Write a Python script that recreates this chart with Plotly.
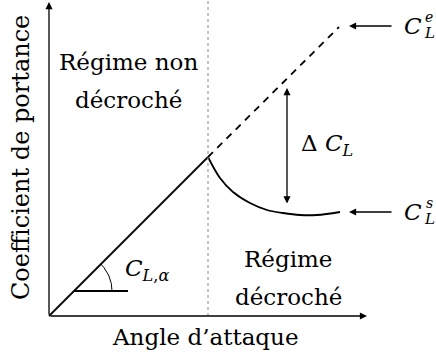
import numpy as np
import plotly.graph_objects as go

# pre-stall linear region (angle, lift), origin at the axes corner
alpha_lin = [0, 159]
cl_lin = [0, 159]

# extrapolated (theoretical) lift
alpha_ext = [159, 290]
cl_ext = [159, 289]

# stalled lift curve
alpha_stall = [159, 171, 184, 201, 218, 234, 251, 268, 291]
cl_stall = [159, 138, 124, 113, 106, 103, 101, 101, 104]

alpha_stall_onset = 159
cl_top = 316

FONT = "DejaVu Serif, serif"
BLACK = "#000000"

fig = go.Figure()

fig.add_trace(go.Scatter(x=alpha_lin, y=cl_lin, mode="lines",
                         line=dict(color=BLACK, width=1.8)))
fig.add_trace(go.Scatter(x=alpha_ext, y=cl_ext, mode="lines",
                         line=dict(color=BLACK, width=1.8, dash="7px,6px")))
fig.add_trace(go.Scatter(x=alpha_stall, y=cl_stall, mode="lines",
                         line=dict(color=BLACK, width=1.8, shape="spline", smoothing=1)))

# stall onset separator
fig.add_trace(go.Scatter(x=[alpha_stall_onset, alpha_stall_onset], y=[0, cl_top],
                         mode="lines", line=dict(color="#888888", width=1, dash="dot")))

# lift slope marker
x0, y0, r = 25, 25, 38
fig.add_trace(go.Scatter(x=[x0, x0 + 54], y=[y0, y0], mode="lines",
                         line=dict(color=BLACK, width=1.8)))
th = np.linspace(0, np.pi / 4, 30)
fig.add_trace(go.Scatter(x=x0 + r * np.cos(th), y=y0 + r * np.sin(th), mode="lines",
                         line=dict(color=BLACK, width=1)))


def arrow(x, y, ax, ay, both=False):
    fig.add_annotation(x=x, y=y, ax=ax, ay=ay, xref="x", yref="y", axref="x", ayref="y",
                       text="", showarrow=True, arrowhead=2, arrowsize=1.1, arrowwidth=1.3,
                       arrowcolor=BLACK, arrowside="end+start" if both else "end",
                       startarrowhead=2, startarrowsize=1.1)


# axes
arrow(0, 314, 0, 0)
arrow(318, 0, 0, 0)
# delta CL
arrow(238, 228, 238, 111, both=True)
# CL^e, CL^s pointers
arrow(300, 290, 344, 290)
arrow(300, 104, 344, 104)


def label(x, y, text, size=23, **kw):
    fig.add_annotation(x=x, y=y, xref="x", yref="y", text=text, showarrow=False,
                       font=dict(family=FONT, size=size, color=BLACK), **kw)


label(79, 254, "Régime non")
label(79, 216, "décroché")
label(239, 57, "Régime")
label(239, 19, "décroché")
label(156, -21, "Angle d’attaque")
label(-28, 158, "Coefficient de portance", size=24, textangle=-90)
label(278, 171, "Δ <i>C</i><sub><i>L</i></sub>")
label(98, 46, "<i>C</i><sub><i>L</i>,<i>α</i></sub>")
for yy, sup in [(290, "e"), (104, "s")]:
    label(364, yy, "<i>C</i>", xanchor="center")
    label(380, yy - 7, "<i>L</i>", size=15, xanchor="center")
    label(380, yy + 9, "<i>" + sup + "</i>", size=14, xanchor="center")

fig.update_layout(
    width=436, height=358,
    margin=dict(l=0, r=0, t=0, b=0),
    paper_bgcolor="white", plot_bgcolor="white",
    showlegend=False,
    xaxis=dict(range=[-49, 387], visible=False, fixedrange=True),
    yaxis=dict(range=[-42, 316], visible=False, fixedrange=True),
)

fig.write_html("out.html", config={"displayModeBar": False},
               post_script="document.body.style.margin='0';")
